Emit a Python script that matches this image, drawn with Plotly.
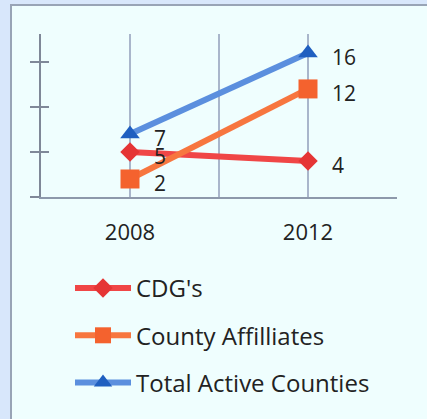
import plotly.graph_objects as go

years = ["2008", "2012"]
cdg = [5, 4]
county_affiliates = [2, 12]
total_active = [7, 16]

series = [
    ("CDG's", cdg, "#f04646", "#e53535", "diamond", 15),
    ("County Affilliates", county_affiliates, "#f7763f", "#f4622e", "square", 19),
    ("Total Active Counties", total_active, "#5b8fde", "#1f5fc0", "triangle-up", 17),
]

FONT = "Open Sans"
xpos = [2 * i + 1 for i in range(len(years))]

fig = go.Figure()
annotations = []
for i, (name, vals, lc, mc, sym, ms) in enumerate(series):
    fig.add_trace(go.Scatter(
        x=xpos, y=vals, name=name, mode="lines+markers",
        legendgroup="g%d" % i,
        line=dict(color=lc, width=6),
        marker=dict(color=mc, symbol=sym, size=ms, line=dict(width=0)),
    ))
    for xv, v in zip(xpos, vals):
        annotations.append(dict(
            x=xv, y=v, xref="x", yref="y", text=str(v), showarrow=False,
            xanchor="left", yanchor="middle", xshift=22, yshift=-4,
            font=dict(family=FONT, size=21, color="#222222"),
        ))

fig.add_trace(go.Scatter(x=[None], y=[None], yaxis="y2", showlegend=False, hoverinfo="skip"))

L, R, T, B = 41, 397, 34, 197
W, H = 427, 419
pw, ph = R - L, B - T

def px(xp):
    return (xp - L) / pw

def py(yp):
    return (B - yp) / ph

fig.add_shape(type="rect", xref="paper", yref="paper",
              x0=px(11), x1=px(440), y0=py(430), y1=py(5),
              fillcolor="#effefe", line=dict(color="#98a4b6", width=2), layer="below")

fig.update_layout(
    width=W, height=H,
    margin=dict(l=L, r=W - R, t=T, b=H - B, pad=0),
    paper_bgcolor="#d8e7fb",
    plot_bgcolor="rgba(0,0,0,0)",
    font=dict(family=FONT, color="#222222"),
    annotations=annotations,
    showlegend=True,
    legend=dict(
        x=px(70), y=py(266), xanchor="left", yanchor="top",
        orientation="v", traceorder="grouped", tracegroupgap=13,
        itemwidth=56, bgcolor="rgba(0,0,0,0)",
        font=dict(family=FONT, size=24, color="#222222"),
    ),
    xaxis=dict(
        range=[0, 4], tickvals=xpos, ticktext=years,
        showgrid=True, gridcolor="#a9b6cb", gridwidth=1.5,
        minor=dict(tickvals=[0, 2, 4], showgrid=True, gridcolor="#a9b6cb", gridwidth=1.5),
        showline=True, linecolor="#8d99ab", linewidth=2,
        zeroline=False, ticks="", ticklabelstandoff=15,
        tickfont=dict(family=FONT, size=22, color="#222222"),
    ),
    yaxis=dict(
        range=[0, 18.1], dtick=5, showticklabels=False,
        ticks="outside", ticklen=9, tickwidth=1.5, tickcolor="#7f8898",
        showline=True, linecolor="#7f8898", linewidth=2,
        showgrid=False, zeroline=False,
    ),
    yaxis2=dict(
        range=[0, 18.1], dtick=5, showticklabels=False, overlaying="y", anchor="x",
        side="left", ticks="inside", ticklen=8, tickwidth=1.5, tickcolor="#7f8898",
        showline=False, showgrid=False, zeroline=False,
    ),
)

fig.write_html("out.html", config={"displayModeBar": False},
               post_script="document.body.style.margin='0';document.body.style.overflow='hidden';")
